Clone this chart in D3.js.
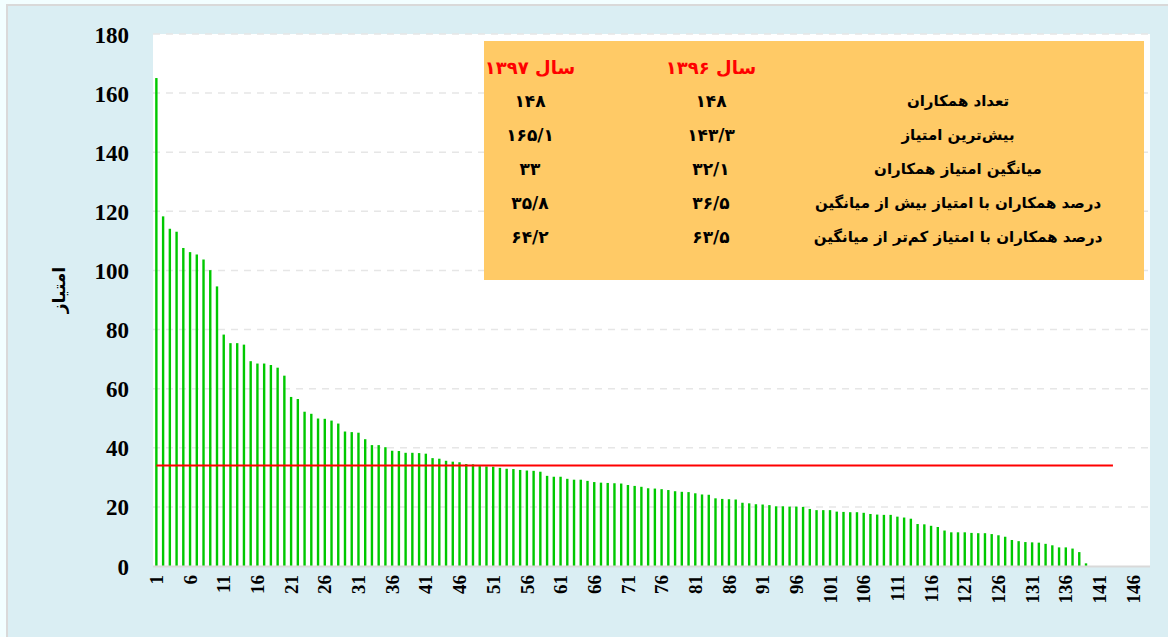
<!DOCTYPE html>
<html><head><meta charset="utf-8">
<script src="https://cdn.jsdelivr.net/npm/d3@7"></script>
<style>
html,body{margin:0;padding:0;background:#F2FEFF;}
svg{display:block;}
</style></head>
<body>
<svg id="chart" width="1168" height="637"></svg>
<script>
// ---- data ----
const scores = [165.1,118.3,114.1,113.1,107.6,106.2,105.4,103.7,100.1,94.6,
78.3,75.4,75.4,74.9,69.3,68.5,68.5,68.0,67.1,64.4,
57.2,56.5,52.2,51.5,49.9,49.8,49.2,48.2,45.5,45.3,
45.1,42.9,40.9,40.9,40.2,39.0,38.9,38.3,38.3,38.2,
38.0,36.5,36.3,35.6,35.3,35.1,34.5,34.4,33.8,33.7,
33.6,33.2,32.9,32.8,32.5,32.3,32.2,31.9,30.5,30.2,
30.2,29.5,29.2,29.2,28.8,28.4,28.2,28.1,28.0,27.9,
27.4,27.1,26.8,26.3,26.2,26.0,25.7,25.3,25.1,25.0,
24.6,24.2,24.1,22.9,22.7,22.6,22.5,21.4,21.2,20.9,
20.8,20.6,20.2,20.2,20.1,20.1,20.0,19.3,18.9,18.9,
18.9,18.4,18.3,18.2,18.2,18.0,17.6,17.4,17.3,17.3,
16.7,16.4,16.0,14.2,14.1,13.6,13.2,12.0,11.4,11.4,
11.4,11.2,11.1,11.1,10.8,10.4,9.9,8.8,8.4,8.1,
8.0,7.9,7.5,7.0,6.3,6.3,5.9,4.7,0.9];
const categoryCount = 148;
const categories = d3.range(1, categoryCount + 1);
const xTickLabels = d3.range(1, 147, 5);
const yTicks = [0,20,40,60,80,100,120,140,160,180];
const meanLineValue = 34;
const meanLineCategories = d3.range(1, 144);
const yTitle = "امتیاز";
const tableHeaders = ["سال ۱۳۹۶", "سال ۱۳۹۷"];
const tableRowLabels = ["تعداد همکاران","بیش‌ترین امتیاز","میانگین امتیاز همکاران","درصد همکاران با امتیاز بیش از میانگین","درصد همکاران با امتیاز کم‌تر از میانگین"];
const values1396 = ["۱۴۸","۱۴۳/۳","۳۲/۱","۳۶/۵","۶۳/۵"];
const values1397 = ["۱۴۸","۱۶۵/۱","۳۳","۳۵/۸","۶۴/۲"];

// ---- drawing ----
const svg = d3.select("#chart");
svg.append("rect").attr("x",7).attr("y",5).attr("width",1200).attr("height",700)
  .attr("fill","#DAEEF3").attr("stroke","#D9D9D9").attr("stroke-width",2);

const plot = {left:153, right:1150, top:34, bottom:566};
svg.append("rect").attr("x",plot.left).attr("y",plot.top)
  .attr("width",plot.right-plot.left).attr("height",plot.bottom-plot.top).attr("fill","#FFFFFF");

const x = d3.scaleBand().domain(categories).range([plot.left, plot.right]).padding(0);
const y = d3.scaleLinear().domain([0,180]).range([plot.bottom, plot.top]);

// gridlines
svg.append("g").selectAll("line").data(yTicks.filter(d=>d>0)).join("line")
  .attr("x1",plot.left).attr("x2",plot.right)
  .attr("y1",d=>y(d)).attr("y2",d=>y(d))
  .attr("stroke","#E6E6E6").attr("stroke-width",1.5).attr("stroke-dasharray","7,6");

// bars
const bw = 2.4;
svg.append("g").selectAll("rect").data(scores).join("rect")
  .attr("x",(d,i)=>x(i+1)+x.bandwidth()/2-bw/2)
  .attr("width",bw)
  .attr("y",d=>y(d))
  .attr("height",d=>y(0)-y(d))
  .attr("fill","#00C800");

// mean line
const line = d3.line().x(d=>x(d)+x.bandwidth()/2).y(()=>y(meanLineValue));
svg.append("path").datum(meanLineCategories).attr("d",line)
  .attr("fill","none").attr("stroke","#FF0000").attr("stroke-width",2);

// x axis line
svg.append("line").attr("x1",plot.left).attr("x2",plot.right)
  .attr("y1",plot.bottom+0.5).attr("y2",plot.bottom+0.5)
  .attr("stroke","#D9D9D9").attr("stroke-width",2);

// y axis labels
const yAxis = d3.axisLeft(y).tickValues(yTicks).tickSize(0).tickPadding(0);
const gy = svg.append("g").attr("transform",`translate(129,0)`).call(yAxis);
gy.select(".domain").remove();
gy.selectAll("text").attr("font-family","'Liberation Serif','Times New Roman',serif")
  .attr("font-weight","bold").attr("font-size",23).attr("fill","#000").attr("dy","0.35em");

// x axis labels
const xAxis = d3.axisBottom(x).tickValues(xTickLabels).tickSize(0).tickPadding(0);
const gx = svg.append("g").attr("transform",`translate(0,${plot.bottom})`).call(xAxis);
gx.select(".domain").remove();
gx.selectAll("text")
  .attr("font-family","'Liberation Serif','Times New Roman',serif")
  .attr("font-weight","bold").attr("font-size",19).attr("fill","#000")
  .attr("text-anchor","end").attr("transform","rotate(-90)")
  .attr("x",-9).attr("y",0).attr("dy","0.35em");

// y title
svg.append("text").attr("transform","translate(59,290) rotate(-90)")
  .attr("text-anchor","middle").attr("dy","0.35em")
  .attr("font-family","'DejaVu Sans',sans-serif").attr("font-weight","bold")
  .attr("font-size",17).attr("fill","#000").text(yTitle);

// table box
svg.append("rect").attr("x",484).attr("y",41).attr("width",660).attr("height",239).attr("fill","#FFCA66");
const colX = {label:958, v1396:711, v1397:530};
const rowY = d3.scaleBand().domain(d3.range(tableRowLabels.length)).range([84,254]);
const tfont = "'DejaVu Sans',sans-serif";
svg.append("g").selectAll("text").data(tableHeaders).join("text")
  .attr("x",(d,i)=>i===0?colX.v1396:colX.v1397).attr("y",68).attr("dy","0.35em")
  .attr("text-anchor","middle").attr("direction","rtl").attr("unicode-bidi","plaintext")
  .attr("font-family",tfont).attr("font-weight","bold").attr("font-size",18).attr("fill","#FF0000")
  .text(d=>d);
const rows = svg.append("g").selectAll("g").data(tableRowLabels).join("g")
  .attr("transform",(d,i)=>`translate(0,${rowY(i)+rowY.bandwidth()/2})`);
rows.append("text").attr("x",colX.label).attr("dy","0.35em").attr("text-anchor","middle")
  .attr("direction","rtl").attr("font-family",tfont).attr("font-weight","bold")
  .attr("font-size",15).attr("fill","#000").text(d=>d);
rows.append("text").attr("x",colX.v1396).attr("dy","0.35em").attr("text-anchor","middle")
  .attr("font-family",tfont).attr("font-weight","bold").attr("font-size",17).attr("fill","#000")
  .text((d,i)=>values1396[i]);
rows.append("text").attr("x",colX.v1397).attr("dy","0.35em").attr("text-anchor","middle")
  .attr("font-family",tfont).attr("font-weight","bold").attr("font-size",17).attr("fill","#000")
  .text((d,i)=>values1397[i]);
</script>
</body></html>
